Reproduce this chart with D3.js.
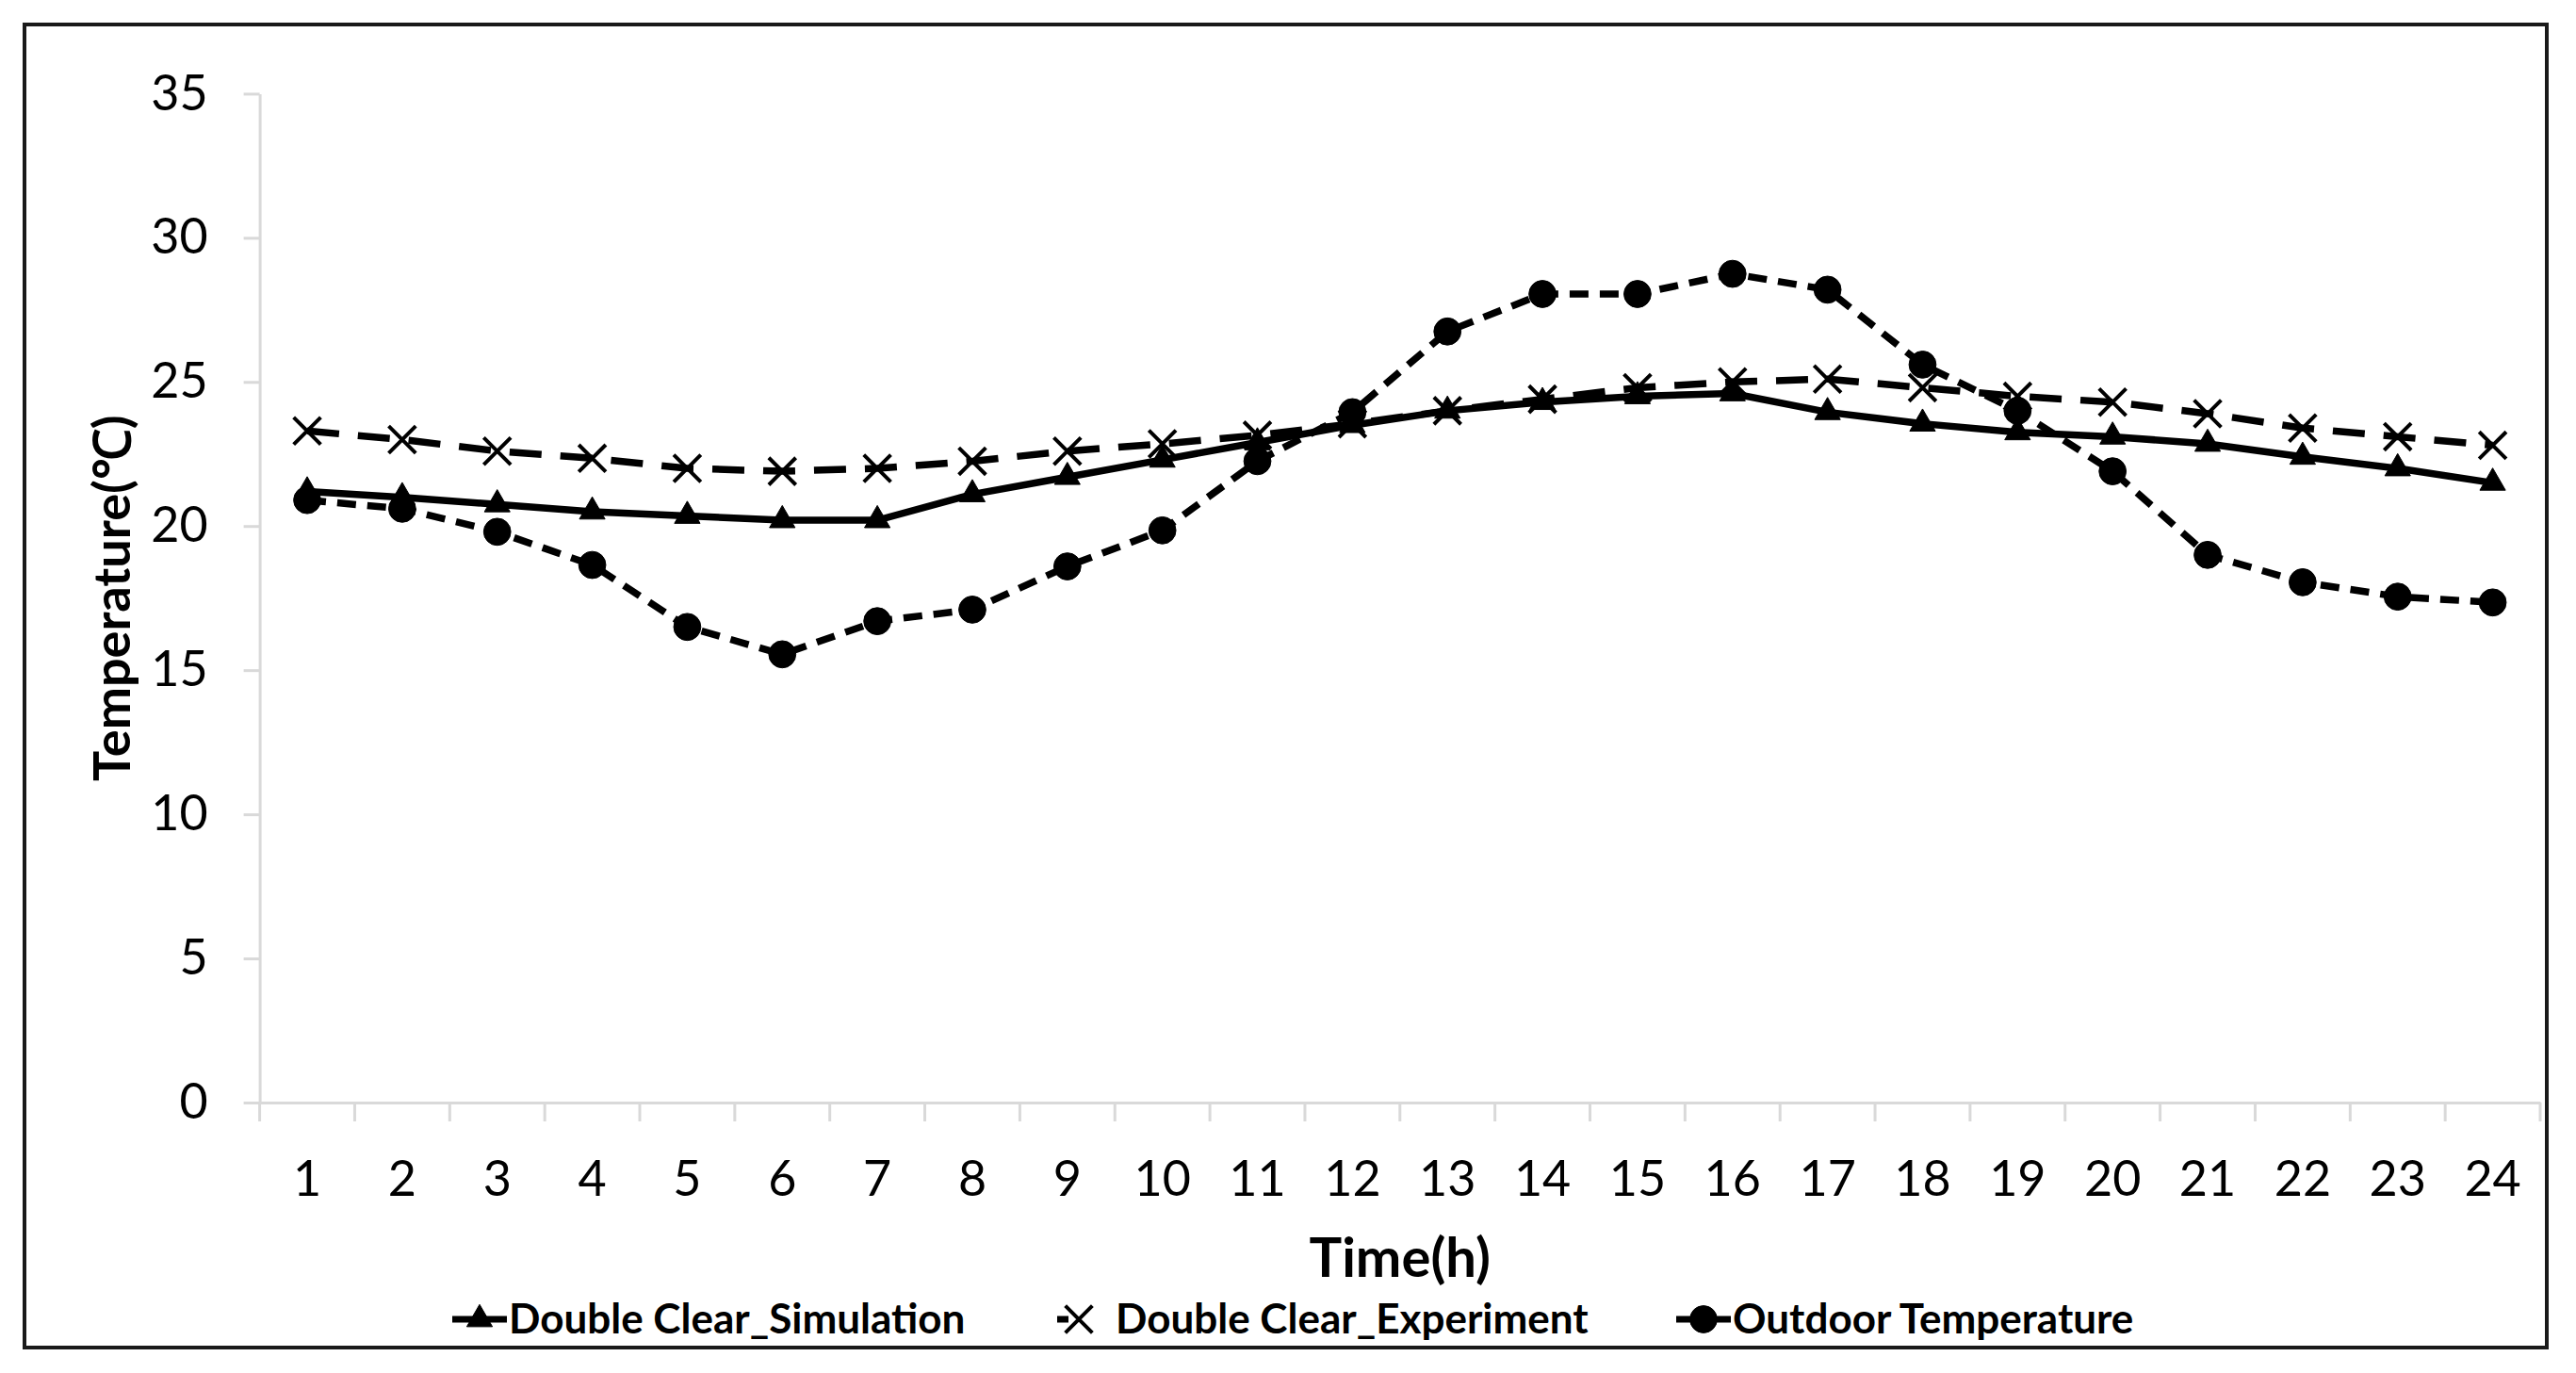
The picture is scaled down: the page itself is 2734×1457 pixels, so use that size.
<!DOCTYPE html>
<html>
<head>
<meta charset="utf-8">
<script src="https://cdn.jsdelivr.net/npm/d3@7"></script>
<style>
  body { margin: 0; background: #fff; }
  text { font-family: Lato, "Open Sans", sans-serif; fill: #000; }
</style>
</head>
<body>
<div id="chart"></div>
<script>
var svgWidth = 2734;
var svgHeight = 1457;

// data
var hours = d3.range(1, 25);
var simulation = [21.2, 21.0, 20.75, 20.5, 20.35, 20.2, 20.2, 21.1, 21.7, 22.3, 22.9, 23.5,
                  24.0, 24.3, 24.5, 24.6, 23.95, 23.55, 23.25, 23.1, 22.85, 22.4, 22.0, 21.5];
var experiment = [23.3, 23.0, 22.6, 22.35, 22.0, 21.9, 22.0, 22.25, 22.6, 22.85, 23.15, 23.55,
                  24.0, 24.4, 24.8, 25.0, 25.1, 24.8, 24.5, 24.3, 23.9, 23.4, 23.1, 22.8];
var outdoor = [20.9, 20.6, 19.8, 18.65, 16.5, 15.55, 16.7, 17.1, 18.6, 19.85, 22.25, 23.95,
               26.75, 28.05, 28.05, 28.75, 28.2, 25.6, 24.0, 21.9, 19.0, 18.05, 17.55, 17.35];
var yTicks = [0, 5, 10, 15, 20, 25, 30, 35];
var seriesNames = ["Double Clear_Simulation", "Double Clear_Experiment", "Outdoor Temperature"];

var plot = { left: 275.6, right: 2696, top: 99.4, bottom: 1170 };

var svg = d3.select("#chart")
    .append("svg")
    .attr("width", svgWidth)
    .attr("height", svgHeight);

svg.append("rect")
    .attr("width", svgWidth).attr("height", svgHeight)
    .attr("fill", "#fff");

// outer frame
svg.append("rect")
    .attr("x", 26).attr("y", 26)
    .attr("width", 2703 - 26).attr("height", 1430 - 26)
    .attr("fill", "none")
    .attr("stroke", "#1a1a1a")
    .attr("stroke-width", 4);

var x = d3.scaleBand().domain(hours).range([plot.left, plot.right]);
var xc = d => x(d) + x.bandwidth() / 2;
var y = d3.scaleLinear().domain([0, 35]).range([plot.bottom, plot.top]);

// y axis
var yAxis = svg.append("g")
    .attr("transform", `translate(${plot.left},0)`)
    .call(d3.axisLeft(y).tickValues(yTicks).tickSize(17).tickPadding(38).tickSizeOuter(0));
yAxis.select(".domain").attr("stroke", "#d9d9d9").attr("stroke-width", 3);
yAxis.selectAll(".tick line").attr("stroke", "#d9d9d9").attr("stroke-width", 3);
yAxis.selectAll(".tick text")
    .style("font-family", "Lato, sans-serif")
    .attr("font-size", 52)
    .attr("fill", "#000");

// x axis, labels centred, ticks between categories
var xAxis = svg.append("g")
    .attr("transform", `translate(0,${plot.bottom})`)
    .call(d3.axisBottom(x).tickSize(0).tickPadding(62).tickSizeOuter(0));
xAxis.select(".domain").attr("stroke", "#d9d9d9").attr("stroke-width", 3);
xAxis.selectAll(".tick text")
    .style("font-family", "Lato, sans-serif")
    .attr("font-size", 52)
    .attr("fill", "#000");

svg.append("g").selectAll("line")
    .data(hours.concat([null]))
    .enter().append("line")
    .attr("x1", d => d === null ? plot.right : x(d))
    .attr("x2", d => d === null ? plot.right : x(d))
    .attr("y1", plot.bottom)
    .attr("y2", plot.bottom + 20)
    .attr("stroke", "#d9d9d9")
    .attr("stroke-width", 3);

// axis titles
svg.append("text")
    .attr("x", (plot.left + plot.right) / 2)
    .attr("y", 1355)
    .attr("text-anchor", "middle")
    .attr("font-size", 58)
    .attr("font-weight", "bold")
    .text("Time(h)");

svg.append("text")
    .attr("transform", `translate(138,${(plot.top + plot.bottom) / 2}) rotate(-90)`)
    .attr("text-anchor", "middle")
    .attr("font-size", 54)
    .attr("font-weight", "bold")
    .text("Temperature(℃)");

// series
var styles = [
    { values: simulation, dash: null, symbol: d3.symbolTriangle, size: 320, filled: true },
    { values: experiment, dash: "34,20", symbol: d3.symbolTimes, size: 540, filled: false },
    { values: outdoor, dash: "20,12", symbol: d3.symbolCircle, size: 650, filled: true }
];

var line = d3.line()
    .x((d, i) => xc(hours[i]))
    .y(d => y(d));

styles.forEach(function (s) {
    svg.append("path")
        .datum(s.values)
        .attr("d", line)
        .attr("fill", "none")
        .attr("stroke", "#000")
        .attr("stroke-width", 7.5)
        .attr("stroke-dasharray", s.dash);
});

styles.forEach(function (s) {
    svg.append("g").selectAll("path")
        .data(s.values)
        .enter().append("path")
        .attr("transform", (d, i) => `translate(${xc(hours[i])},${y(d)})`)
        .attr("d", d3.symbol(s.symbol, s.size))
        .attr("fill", s.filled ? "#000" : "none")
        .attr("stroke", "#000")
        .attr("stroke-width", s.filled ? 1 : 4);
});

// legend
var legendX = [480, 1122, 1779];
var legendY = 1400;
var legend = svg.append("g");
styles.forEach(function (s, i) {
    var g = legend.append("g").attr("transform", `translate(${legendX[i]},${legendY})`);
    g.append("line")
        .attr("x1", 0).attr("x2", 58)
        .attr("y1", 0).attr("y2", 0)
        .attr("stroke", "#000")
        .attr("stroke-width", 7)
        .attr("stroke-dasharray", i === 1 ? "12,50" : null);
    g.append("path")
        .attr("transform", `translate(${i === 1 ? 23 : 29},0)`)
        .attr("d", d3.symbol(s.symbol, s.size))
        .attr("fill", s.filled ? "#000" : "none")
        .attr("stroke", "#000")
        .attr("stroke-width", s.filled ? 1 : 4);
    g.append("text")
        .attr("x", i === 1 ? 62 : 60)
        .attr("y", 15)
        .attr("font-size", 44)
        .attr("font-weight", "bold")
        .text(seriesNames[i]);
});
</script>
</body>
</html>
